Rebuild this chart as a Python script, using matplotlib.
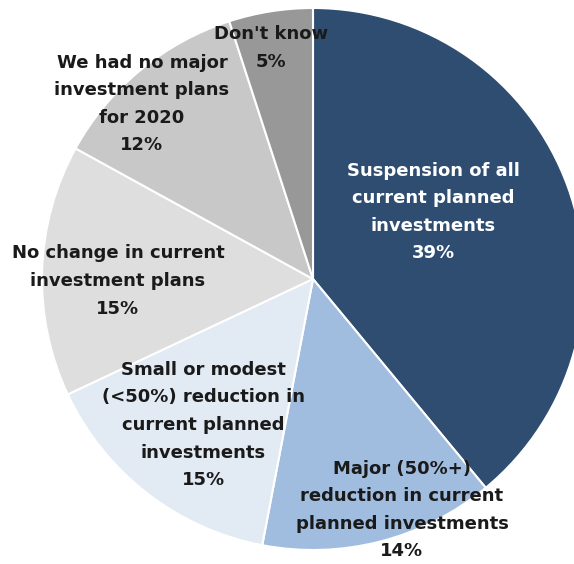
import matplotlib
matplotlib.use("Agg")
import matplotlib.pyplot as plt

# investment plans share, clockwise from 12 o'clock
labels = [
    "Suspension of all\ncurrent planned\ninvestments",
    "Major (50%+)\nreduction in current\nplanned investments",
    "Small or modest\n(<50%) reduction in\ncurrent planned\ninvestments",
    "No change in current\ninvestment plans",
    "We had no major\ninvestment plans\nfor 2020",
    "Don't know",
]
shares = [39, 14, 15, 15, 12, 5]

colors = ["#2E4D71", "#A0BDE0", "#E2EAF4", "#DEDEDE", "#C8C8C8", "#989898"]
text_colors = ["white", "#1a1a1a", "#1a1a1a", "#1a1a1a", "#1a1a1a", "#1a1a1a"]

# label block centres in pixels (x, y from top)
label_pos = [(433, 212), (402, 510), (203, 425), (118, 281), (142, 104), (271, 48)]

W, H = 574, 564
CX, CY, R = 313, 279, 271

fig = plt.figure(figsize=(W / 100, H / 100), dpi=100)
ax = fig.add_axes([0, 0, 1, 1])

ax.pie(
    shares,
    colors=colors,
    startangle=90,
    counterclock=False,
    radius=1.0,
    wedgeprops=dict(edgecolor="white", linewidth=1.5),
)
ax.set_xlim(-CX / R, (W - CX) / R)
ax.set_ylim(-(H - CY) / R, CY / R)
ax.set_aspect("auto")
ax.axis("off")

for lab, val, (px, py), tc in zip(labels, shares, label_pos, text_colors):
    fig.text(
        px / W,
        1 - py / H,
        f"{lab}\n{val}%",
        ha="center",
        va="center",
        color=tc,
        fontsize=13,
        fontweight="bold",
        family="DejaVu Sans",
        linespacing=1.68,
    )

fig.savefig("out.png", dpi=100)
